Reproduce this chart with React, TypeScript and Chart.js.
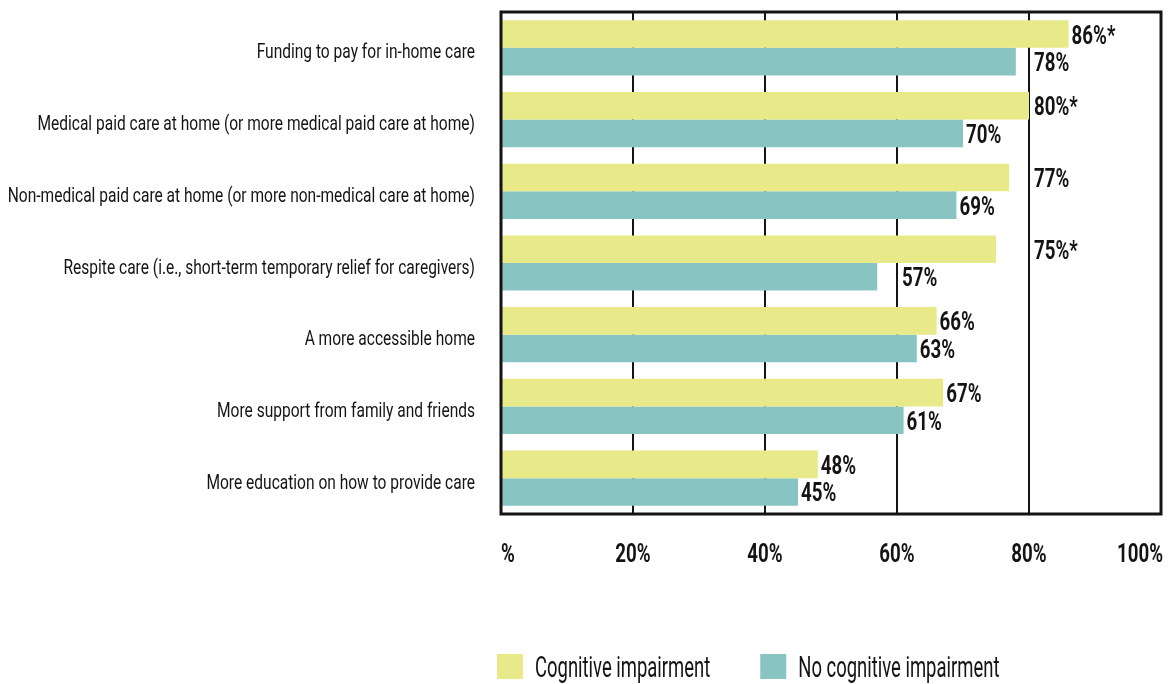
import { useEffect, useRef } from "react";
import { Chart, registerables } from "chart.js";

Chart.register(...registerables);

const categories = [
  "Funding to pay for in-home care",
  "Medical paid care at home (or more medical paid care at home)",
  "Non-medical paid care at home (or more non-medical care at home)",
  "Respite care (i.e., short-term temporary relief for caregivers)",
  "A more accessible home",
  "More support from family and friends",
  "More education on how to provide care",
];
const cognitive = [86, 80, 77, 75, 66, 67, 48];
const noCognitive = [78, 70, 69, 57, 63, 61, 45];
const cognitiveLabels = ["86%*", "80%*", "77%", "75%*", "66%", "67%", "48%"];
const noCognitiveLabels = ["78%", "70%", "69%", "57%", "63%", "61%", "45%"];
const tickValues = [0, 20, 40, 60, 80, 100];
const tickLabels = ["%", "20%", "40%", "60%", "80%", "100%"];
const seriesNames = ["Cognitive impairment", "No cognitive impairment"];
const seriesColors = ["#E8EA8A", "#88C4C2"];

const FONT = "Roboto, 'Liberation Sans', sans-serif";
const INK = "#141414";

// draw horizontally condensed text (emulates a condensed gothic face)
function drawText(
  ctx: CanvasRenderingContext2D,
  text: string,
  x: number,
  y: number,
  align: "left" | "right" | "center",
  font: string,
  sx: number
) {
  ctx.save();
  ctx.font = font;
  ctx.textAlign = "left";
  ctx.textBaseline = "alphabetic";
  const w = ctx.measureText(text).width * sx;
  const left = align === "left" ? x : align === "right" ? x - w : x - w / 2;
  ctx.translate(left, y);
  ctx.scale(sx, 1);
  ctx.fillText(text, 0, 0);
  ctx.restore();
  return w;
}

const CAT_FONT = `21px ${FONT}`;
const CAT_SX = 0.74;
const BOLD_FONT = `bold 26px ${FONT}`;
const BOLD_SX = 0.72;
const LEG_FONT = `30px ${FONT}`;
const LEG_SX = 0.615;

function textWidth(ctx: CanvasRenderingContext2D, text: string, font: string, sx: number) {
  ctx.save();
  ctx.font = font;
  const w = ctx.measureText(text).width * sx;
  ctx.restore();
  return w;
}

const valueLabelPlugin = {
  id: "valueLabels",
  afterDatasetsDraw(chart: any) {
    const ctx = chart.ctx;
    const xs = chart.scales.x;
    const gridPx = [20, 40, 60, 80].map((v) => xs.getPixelForValue(v));
    const allLabels = [cognitiveLabels, noCognitiveLabels];
    ctx.save();
    ctx.fillStyle = INK;
    chart.data.datasets.forEach((_: any, i: number) => {
      const meta = chart.getDatasetMeta(i);
      meta.data.forEach((bar: any, j: number) => {
        const label = allLabels[i][j];
        const end = bar.x;
        const w = textWidth(ctx, label, BOLD_FONT, BOLD_SX);
        let x = end + 3;
        gridPx.forEach((g) => {
          if (g >= end - 1 && g <= end + w + 4) x = g + 5;
        });
        drawText(ctx, label, x, bar.y + 9.5, "left", BOLD_FONT, BOLD_SX);
      });
    });
    ctx.restore();
  },
};

const axisTextPlugin = {
  id: "axisText",
  afterDraw(chart: any) {
    const ctx = chart.ctx;
    const xs = chart.scales.x;
    const ys = chart.scales.y;
    const { left, right, bottom } = chart.chartArea;
    ctx.save();
    ctx.fillStyle = INK;
    categories.forEach((c, i) => {
      const y = ys.getPixelForValue(i);
      drawText(ctx, c, left - 26, y + 10.5, "right", CAT_FONT, CAT_SX);
    });
    tickValues.forEach((v, i) => {
      const px = xs.getPixelForValue(v);
      const align = i === 0 ? "left" : i === tickValues.length - 1 ? "right" : "center";
      drawText(ctx, tickLabels[i], align === "left" ? left : align === "right" ? right + 2 : px, bottom + 48, align, BOLD_FONT, BOLD_SX);
    });
    ctx.restore();
  },
};

const framePlugin = {
  id: "frame",
  afterDatasetsDraw(chart: any) {
    const { left, top, right, bottom } = chart.chartArea;
    const ctx = chart.ctx;
    ctx.save();
    ctx.strokeStyle = INK;
    ctx.lineWidth = 3;
    ctx.strokeRect(left, top, right - left, bottom - top);
    ctx.restore();
  },
};

const legendPlugin = {
  id: "customLegend",
  afterDraw(chart: any) {
    const ctx = chart.ctx;
    let x = chart.chartArea.left - 4;
    const boxTop = 654;
    const box = 25;
    ctx.save();
    seriesNames.forEach((name, i) => {
      ctx.fillStyle = seriesColors[i];
      ctx.fillRect(x, boxTop, 26, box);
      ctx.fillStyle = INK;
      const tx = x + 38;
      const w = drawText(ctx, name, tx, 677, "left", LEG_FONT, LEG_SX);
      x = tx + w + 50;
    });
    ctx.restore();
  },
};

export default function App() {
  const ref = useRef<HTMLCanvasElement>(null);

  useEffect(() => {
    if (!ref.current) return;
    const chart = new Chart(ref.current, {
      type: "bar",
      data: {
        labels: categories,
        datasets: [
          {
            label: seriesNames[0],
            data: cognitive,
            backgroundColor: seriesColors[0],
            categoryPercentage: 0.77,
            barPercentage: 1,
          },
          {
            label: seriesNames[1],
            data: noCognitive,
            backgroundColor: seriesColors[1],
            categoryPercentage: 0.77,
            barPercentage: 1,
          },
        ],
      },
      options: {
        indexAxis: "y",
        responsive: false,
        animation: false,
        layout: { padding: { top: 12, right: 13, left: 0, bottom: 0 } },
        plugins: {
          legend: { display: false },
          tooltip: { enabled: false },
        },
        scales: {
          x: {
            min: 0,
            max: 100,
            ticks: { stepSize: 20, display: false },
            grid: {
              drawTicks: false,
              lineWidth: 2,
              color: (c: any) =>
                c.index === 0 || c.index === tickValues.length - 1 ? "rgba(0,0,0,0)" : INK,
            },
            border: { display: false },
            afterFit: (s: any) => {
              s.height = 170;
            },
          },
          y: {
            ticks: { display: false },
            grid: { display: false, drawTicks: false },
            border: { display: false },
            afterFit: (s: any) => {
              s.width = 501;
            },
          },
        },
      },
      plugins: [valueLabelPlugin, framePlugin, axisTextPlugin, legendPlugin],
    });
    return () => chart.destroy();
  }, []);

  return (
    <div style={{ position: "fixed", left: 0, top: 0, width: 1174, height: 684, background: "#fff" }}>
      <canvas ref={ref} width={1174} height={684} style={{ display: "block" }} />
    </div>
  );
}
